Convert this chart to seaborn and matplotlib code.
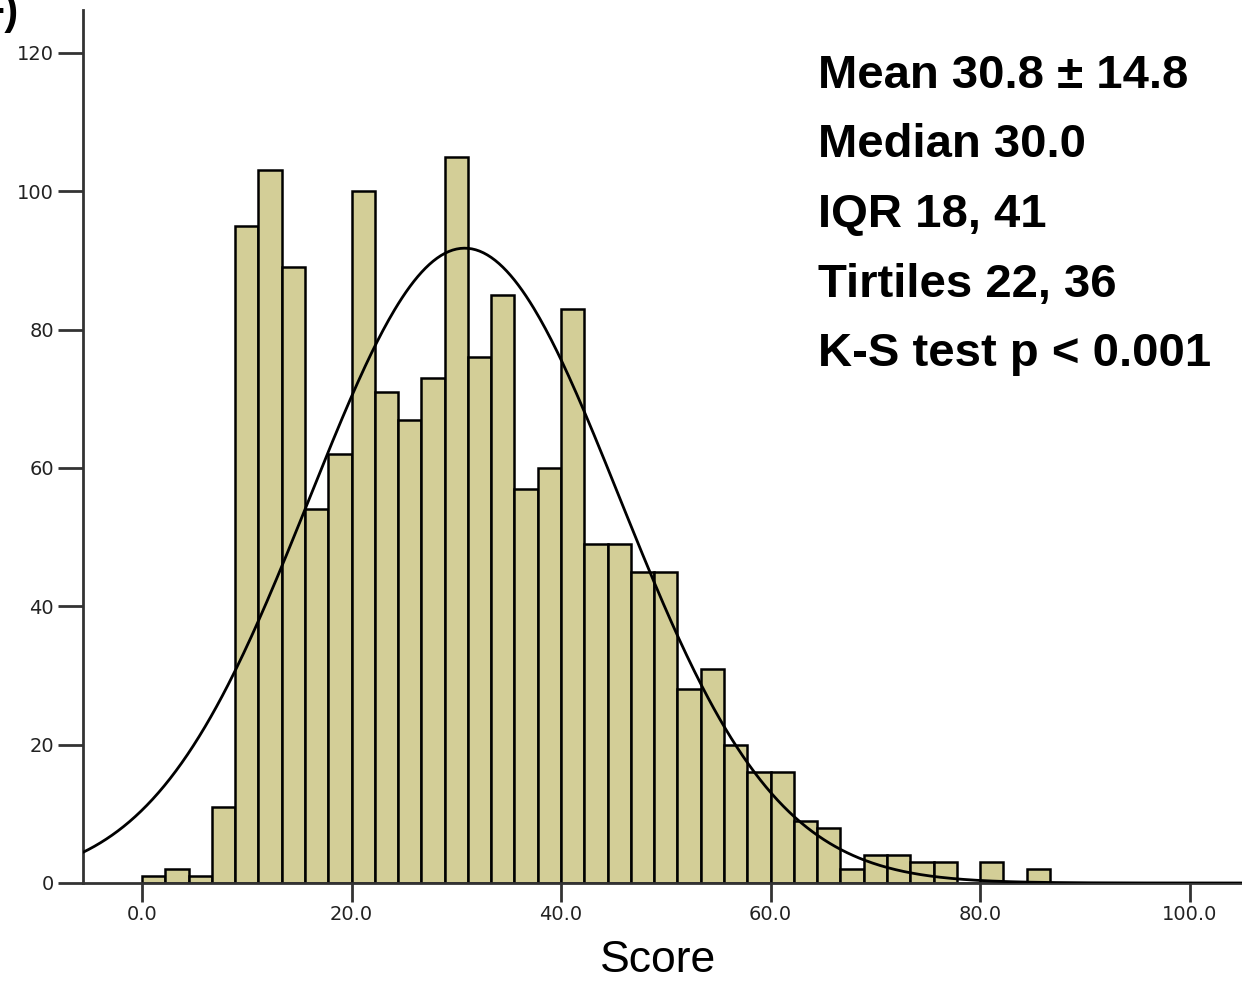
import numpy as np
import matplotlib
matplotlib.use("Agg")
import matplotlib.pyplot as plt
import seaborn as sns
import pandas as pd

# ---- data ----
bin_width = 20.0 / 9.0
bin_start = 0.0
counts = [1, 2, 1, 11, 95, 103, 89, 54, 62, 100, 71, 67, 73, 105, 76, 85, 57, 60,
          83, 49, 49, 45, 45, 28, 31, 20, 16, 16, 9, 8, 2, 4, 4, 3, 3, 0, 3, 0, 2]
mean_val = 30.8
sd_val = 14.8
x_ticks = [0, 20, 40, 60, 80, 100]
x_tick_labels = ["0.0", "20.0", "40.0", "60.0", "80.0", "100.0"]
y_ticks = [0, 20, 40, 60, 80, 100, 120]
stats_lines = ["Mean 30.8 \u00b1 14.8", "Median 30.0", "IQR 18, 41",
               "Tirtiles 22, 36", "K-S test p < 0.001"]
panel_label = "F)"
x_label = "Score"

n_bins = len(counts)
edges = bin_start + bin_width * np.arange(n_bins + 1)
centers = (edges[:-1] + edges[1:]) / 2
df = pd.DataFrame({"Score": centers, "count": counts})
N = sum(counts)

sns.set_style("ticks")
plt.rcParams["font.family"] = ["Liberation Sans", "DejaVu Sans"]
plt.rcParams["text.color"] = "black"

fig = plt.figure(figsize=(12.42, 9.82), dpi=100)
ax = fig.add_axes([83 / 1242, 99 / 982, 1 - 83 / 1242, (883 - 10) / 982])

sns.histplot(data=df, x="Score", weights="count", binwidth=bin_width,
             binrange=(float(edges[0]), float(edges[-1])), ax=ax,
             color="#d3ce97", alpha=1.0, edgecolor="black", linewidth=1.8)

xmin, xmax = -5.63, 105.0
xs = np.linspace(xmin, xmax, 600)
ys = N * bin_width / (sd_val * np.sqrt(2 * np.pi)) * np.exp(-0.5 * ((xs - mean_val) / sd_val) ** 2)
ax.plot(xs, ys, color="black", lw=2.0, zorder=3)

ax.set_xlim(xmin, xmax)
ax.set_ylim(0, 126.2)
ax.set_xticks(x_ticks)
ax.set_xticklabels(x_tick_labels, family="DejaVu Sans")
ax.set_yticks(y_ticks)
ax.set_yticklabels([str(v) for v in y_ticks], family="DejaVu Sans")
ax.tick_params(axis="x", length=14, width=2, color="#333333", labelsize=14, pad=2, labelcolor="#222222")
ax.tick_params(axis="y", length=18, width=2, color="#333333", labelsize=14, pad=3, labelcolor="#222222")
for s in ["top", "right"]:
    ax.spines[s].set_visible(False)
for s in ["left", "bottom"]:
    ax.spines[s].set_linewidth(2)
    ax.spines[s].set_color("#333333")
ax.set_ylabel("")
ax.set_xlabel(x_label, fontsize=32, color="black", va="center")
ax.xaxis.set_label_coords((658 - 83) / 1159, (883 - 960) / 873)

for i, line in enumerate(stats_lines):
    y_px = 76 + i * 69.5
    fig.text(818 / 1242, 1 - y_px / 982, line, fontsize=34, fontweight="bold",
             ha="left", va="center", color="black")

fig.text(19 / 1242, 1 - 13 / 982, panel_label, fontsize=30, fontweight="bold",
         ha="right", va="center", color="black")

fig.savefig("out.png", dpi=100)
